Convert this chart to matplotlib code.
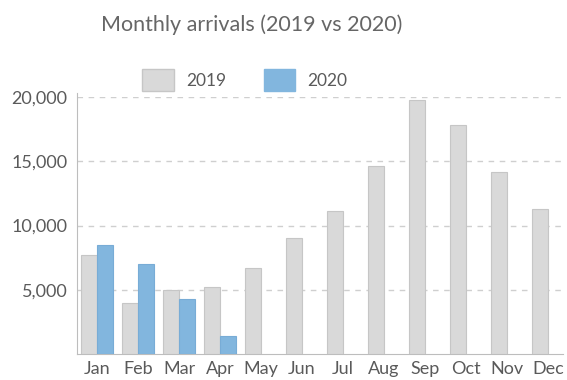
import numpy as np
import matplotlib
matplotlib.use("Agg")
import matplotlib.pyplot as plt
from matplotlib.patches import Patch

months = ["Jan", "Feb", "Mar", "Apr", "May", "Jun",
          "Jul", "Aug", "Sep", "Oct", "Nov", "Dec"]
arrivals_2019 = [7700, 4000, 5000, 5200, 6700, 9000,
                 11100, 14600, 19800, 17800, 14200, 11250]
arrivals_2020 = [8500, 7000, 4300, 1400]
yticks = [5000, 10000, 15000, 20000]

GRAY = "#d9d9d9"
GRAY_EDGE = "#c6c6c6"
BLUE = "#82b6de"
TEXT = "#5a5a5a"

plt.rcParams["font.family"] = ["Lato", "DejaVu Sans"]

fig = plt.figure(figsize=(5.67, 3.8), dpi=100)
ax = fig.add_axes([77 / 567, 26 / 380, (563 - 77) / 567, (354 - 97) / 380])

x = np.arange(len(months))
w = 0.39
ax.bar(x - w / 2, arrivals_2019, width=w, color=GRAY, edgecolor=GRAY_EDGE,
       linewidth=0.8, zorder=3)
x20 = np.arange(len(arrivals_2020))
ax.bar(x20 + w / 2, arrivals_2020, width=w, color=BLUE, edgecolor="#78acd6",
       linewidth=0.8, zorder=3)

ax.set_xlim(-0.49, 11.37)
ax.set_ylim(0, 20000)
ax.set_xticks(x)
ax.set_xticklabels(months)
ax.set_yticks(yticks)
ax.set_yticklabels([f"{v:,}" for v in yticks])
ax.tick_params(length=0, labelsize=13, colors=TEXT, pad=7)
ax.tick_params(axis="x", pad=5)

ax.grid(axis="y", color="#cfcfcf", linestyle=(0, (4, 4)), linewidth=1, zorder=0)
for s in ["top", "right"]:
    ax.spines[s].set_visible(False)
ax.spines["left"].set_color("#bdbdbd")
ax.spines["bottom"].set_color("#bdbdbd")
ax.spines["left"].set_bounds(0, 20300)

handles = [Patch(facecolor=GRAY, edgecolor=GRAY_EDGE, label="2019"),
           Patch(facecolor=BLUE, edgecolor=BLUE, label="2020")]
fig.legend(handles=handles, loc="center", bbox_to_anchor=(245 / 567, 1 - 80 / 380),
           ncol=2, frameon=False, fontsize=12.5, handlelength=1.8, handleheight=1.5,
           columnspacing=2.2, handletextpad=0.7, labelcolor=TEXT)

fig.text(252 / 567, 1 - 25 / 380, "Monthly arrivals (2019 vs 2020)",
         ha="center", va="center", fontsize=15.5, color="#666666")

fig.savefig("out.png", dpi=100, facecolor="white")
